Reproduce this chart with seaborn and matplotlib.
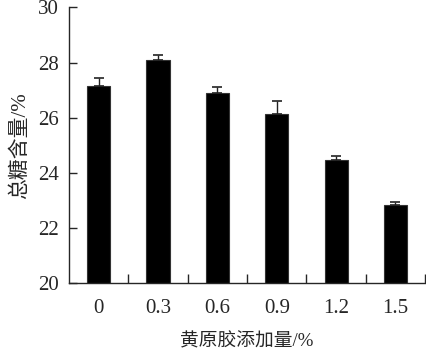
import matplotlib
matplotlib.use('Agg')
import matplotlib.pyplot as plt
import seaborn as sns
import pandas as pd
import numpy as np

# 数据
dosis = ['0', '0.3', '0.6', '0.9', '1.2', '1.5']
azucar_total = [27.15, 28.08, 26.88, 26.15, 24.48, 22.83]
error_sup = [0.30, 0.18, 0.24, 0.45, 0.12, 0.12]

sns.set_style('ticks')
plt.rcParams['font.family'] = ['Liberation Serif', 'Noto Sans CJK SC']
plt.rcParams['axes.unicode_minus'] = False

df = pd.DataFrame({'dosis': dosis, 'azucar': azucar_total})

fig = plt.figure(figsize=(4.26, 3.51), dpi=100)
ax = fig.add_axes([0.162, 0.193, 0.836, 0.786])

sns.barplot(x='dosis', y='azucar', data=df, color='black', width=0.39,
            edgecolor='#333333', linewidth=0.8, ax=ax)

# barras de error solo hacia arriba
centros = [p.get_x() + p.get_width() / 2 for p in ax.patches]
ax.errorbar(centros, azucar_total, yerr=[np.zeros(len(error_sup)), error_sup],
            fmt='none', ecolor='#222222', elinewidth=1.0, capsize=3.3, capthick=1.2)

ax.set_ylim(20, 30)
ax.set_xlim(-0.5, 5.5)
ax.set_yticks([20, 22, 24, 26, 28, 30])

# marcas entre categorías
ax.set_xticks(np.arange(0.5, 6.0, 1.0), minor=True)
ax.tick_params(axis='x', which='major', length=0, pad=11, labelsize=15)
ax.tick_params(axis='x', which='minor', direction='in', length=6.5, width=1.0)
ax.tick_params(axis='y', direction='in', length=5.5, width=1.0, pad=7, labelsize=15)

for lado in ['top', 'right']:
    ax.spines[lado].set_visible(False)
for lado in ['left', 'bottom']:
    ax.spines[lado].set_linewidth(1.0)

ax.set_xlabel('黄原胶添加量/%', fontsize=13.5, labelpad=11)
ax.set_ylabel('总糖含量/%', fontsize=15, labelpad=6)

plt.savefig('out.png', dpi=100)
